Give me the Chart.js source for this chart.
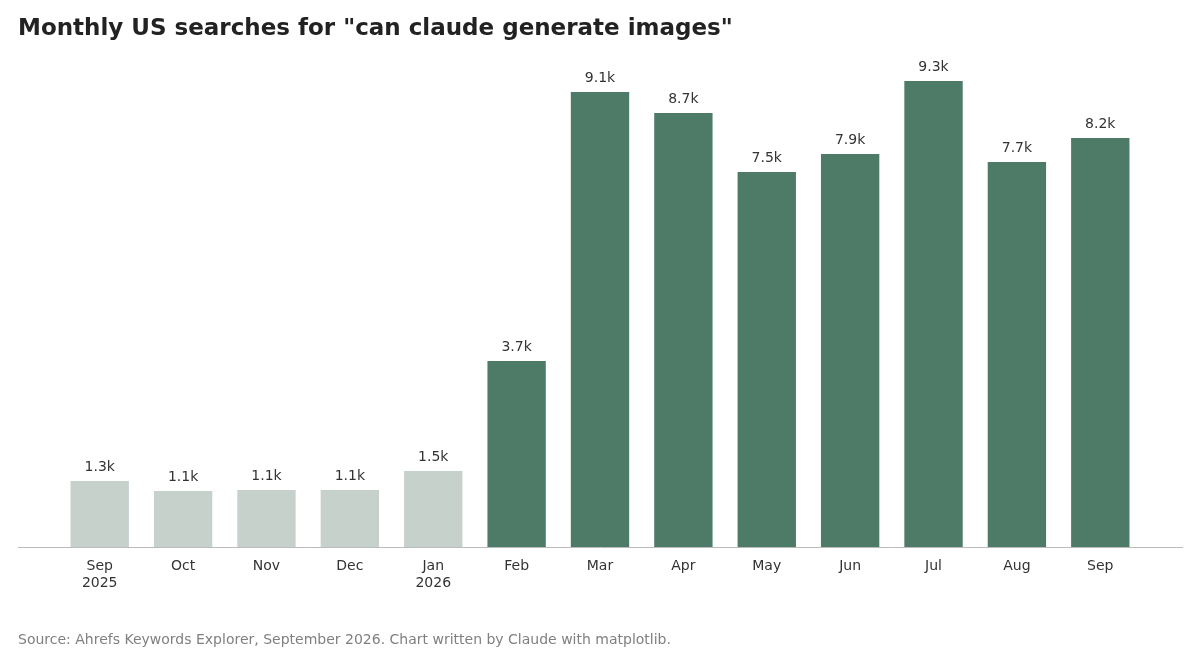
<!DOCTYPE html>
<html><head><meta charset="utf-8">
<script src="https://cdn.jsdelivr.net/npm/chart.js@4/dist/chart.umd.min.js"></script>
<style>
body{margin:0;background:#fff;font-family:"DejaVu Sans",sans-serif}
#wrap{position:relative;width:1200px;height:672px}
#title{position:absolute;left:18px;top:14px;font-size:23px;font-weight:bold;color:#222}
#src{position:absolute;left:18px;top:631px;font-size:14px;color:#808080}
canvas{position:absolute;left:0;top:0}
</style></head><body>
<div id="wrap"><canvas id="c" width="1200" height="672"></canvas>
<div id="title">Monthly US searches for "can claude generate images"</div>
<div id="src">Source: Ahrefs Keywords Explorer, September 2026. Chart written by Claude with matplotlib.</div></div>
<script>
const categories=[["Sep","2025"],"Oct","Nov","Dec",["Jan","2026"],"Feb","Mar","Apr","May","Jun","Jul","Aug","Sep"];
const values=[1.32,1.12,1.14,1.14,1.52,3.72,9.1,8.68,7.5,7.86,9.32,7.7,8.18];
const labels=["1.3k","1.1k","1.1k","1.1k","1.5k","3.7k","9.1k","8.7k","7.5k","7.9k","9.3k","7.7k","8.2k"];
const colors=values.map((v,i)=>i<5?"#c7d1cc":"#4e7a68");
const lbl={id:"lbl",afterDatasetsDraw(ch){const ctx=ch.ctx;ctx.save();ctx.font="14px 'DejaVu Sans'";ctx.fillStyle="#333";ctx.textAlign="center";ctx.textBaseline="bottom";
ch.getDatasetMeta(0).data.forEach((b,i)=>ctx.fillText(labels[i],b.x,b.y-7));ctx.restore();}};
new Chart(document.getElementById("c"),{type:"bar",
data:{datasets:[{data:values.map((v,i)=>({x:i,y:v})),backgroundColor:colors,barPercentage:0.7,categoryPercentage:1}]},
options:{responsive:false,animation:false,devicePixelRatio:1,
layout:{padding:{left:18,right:18,top:55,bottom:0}},
plugins:{legend:{display:false},tooltip:{enabled:false}},
scales:{x:{type:"linear",offset:false,min:-0.98,max:12.98,grid:{display:false,offset:false},border:{color:"#bbb"},
afterBuildTicks(s){s.ticks=categories.map((c,i)=>({value:i}));},
afterFit(s){s.height=125;},
ticks:{autoSkip:false,maxRotation:0,padding:3,color:"#333",font:{size:14,family:"DejaVu Sans"},callback:(v)=>categories[v]}},
y:{display:false,min:0,max:9.84}}},plugins:[lbl]});
</script></body></html>
